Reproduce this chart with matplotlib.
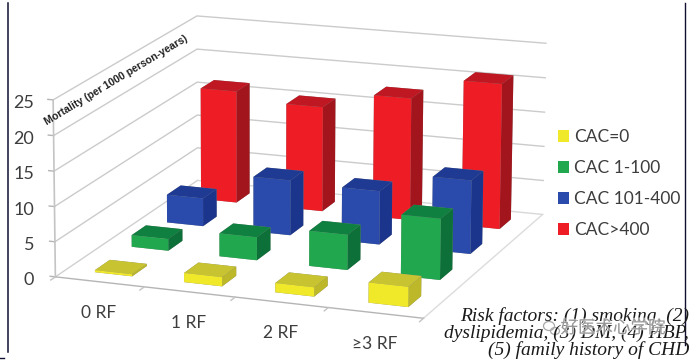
import numpy as np
import matplotlib
matplotlib.use("Agg")
import matplotlib.pyplot as plt
import matplotlib.patheffects as pe
from matplotlib.patches import Patch, Ellipse
from matplotlib.lines import Line2D
from matplotlib.transforms import IdentityTransform
from mpl_toolkits.mplot3d import Axes3D  # noqa

# ---------- data ----------
risk_groups = ["0 RF", "1 RF", "2 RF", "≥3 RF"]
series_names = ["CAC=0", "CAC 1-100", "CAC 101-400", "CAC>400"]
cac_0 = [0.3, 1.3, 1.3, 2.8]
cac_1_100 = [1.7, 3.3, 5.0, 8.6]
cac_101_400 = [4.1, 8.0, 7.7, 10.5]
cac_gt_400 = [16.6, 15.4, 17.8, 21.0]
z_ticks = [0, 5, 10, 15, 20, 25]

# ---------- styles ----------
face_front = ["#f0e92a", "#21a84f", "#2a4bab", "#ee1c25"]
face_top = ["#c8c431", "#0f8040", "#1f3a93", "#c01822"]
face_side = ["#bdb82a", "#0c7038", "#1c358c", "#a3151c"]
BAR_W, BAR_D, BAR_SHIFT = 0.42, 0.40, 0.03

W, H = 691, 360
fig = plt.figure(figsize=(W / 100, H / 100), dpi=100, facecolor="white")
ax = fig.add_axes([0, 0, 1, 1], projection="3d", computed_zorder=False)
ax.set_axis_off()
ax.patch.set_alpha(0)

# ---------- camera fitted so the box corners fall where the reference has them ----------
world = np.array([[0, 0, 0], [0, 0, 25], [4, 0, 0], [4, 4, 0], [4, 4, 25], [0, 4, 0], [0, 4, 25]], float)
screen = np.array([[56, 277], [53, 99], [423, 319], [543, 213], [546, 44], [197, 181], [197, 16]], float)
rows, rhs = [], []
for (x, y, z), (u, v) in zip(world, screen):
    rows.append([x, y, z, 1, 0, 0, 0, 0, -u * x, -u * y, -u * z]); rhs.append(u)
    rows.append([0, 0, 0, 0, x, y, z, 1, -v * x, -v * y, -v * z]); rhs.append(v)
p = np.linalg.lstsq(np.array(rows), np.array(rhs), rcond=None)[0]
M = np.array([[p[0], p[1], p[2], p[3]],
              [p[4], p[5], p[6], p[7]],
              [-0.05, 0.2, -0.01, 0.0],
              [p[8], p[9], p[10], 1.0]])
ax.get_proj = lambda: M
ax.apply_aspect = lambda position=None: None
ax.viewLim.intervalx = (0, W)
ax.viewLim.intervaly = (H, 0)


def to_px(x, y, z):
    """Box coordinates to picture pixels."""
    vec = M @ np.array([x, y, z, 1.0])
    return vec[0] / vec[3], vec[1] / vec[3]


def wire(points, color, lw=1.0):
    pts = np.array([to_px(*q) for q in points])
    fig.add_artist(Line2D(pts[:, 0] / W, 1 - pts[:, 1] / H, color=color, lw=lw, zorder=-1))


# ---------- walls ----------
GRID = "#cbcbcb"
for t in z_ticks:
    if t > 0:
        wire([(0, 0, t), (0, 4, t), (4, 4, t)], GRID)
    wire([(-0.06, 0, t), (0, 0, t)], "#b5b5b5")
wire([(0, 0, 0), (0, 0, 25)], "#c4c4c4", 1.2)
wire([(0, 0, 0), (0, 4, 0)], "#d0d0d0")
wire([(0, 4, 0), (4, 4, 0)], "#d8d8d8")
wire([(4, 0, 0), (4, 4, 0)], "#dcdcdc")
wire([(0, 0, 0), (4, 0, 0)], "#b5b5b5")
for i in range(5):
    wire([(i, 0, 0), (i, -0.12, 0)], "#c4c4c4")

# ---------- bars, back row first ----------
all_series = [cac_0, cac_1_100, cac_101_400, cac_gt_400]
for s in range(3, -1, -1):
    faces = ["#888888", face_top[s], face_front[s], "#888888", "#888888", face_side[s]]
    for i, val in enumerate(all_series[s]):
        ax.bar3d(i + 0.5 + BAR_SHIFT - BAR_W / 2, s + 0.5 - BAR_D / 2, 0, BAR_W, BAR_D, val,
                 color=faces, shade=False, linewidth=0, edgecolor="none", zorder=10 - s + i * 0.1)

# ---------- texts ----------
UI = ["Lato", "DejaVu Sans"]
INK = "#3d3d3d"
for t in z_ticks:
    _, py = to_px(0, 0, t)
    fig.text(34 / W, 1 - (py + 3) / H, str(t), family=UI, fontsize=13, color=INK, ha="right", va="center")
for i, lab in enumerate(risk_groups):
    px, py = to_px(i + 0.5, 0, 0)
    fig.text((px - 1) / W, 1 - (py + 31) / H, lab, family=UI, fontsize=12.5, color=INK, ha="center", va="center")

fig.text(116 / W, 1 - 80 / H, "Mortality (per 1000 person-years)", family="Liberation Sans", weight="bold",
         fontsize=7.6, color="#222222", rotation=31, ha="center", va="center", rotation_mode="anchor")

handles = [Patch(facecolor=c, edgecolor="none") for c in face_front]
fig.legend(handles, series_names, loc="center left", bbox_to_anchor=(558 / W, 1 - 183.5 / H), frameon=False,
           prop={"family": "Lato", "size": 12.5}, labelcolor=INK, handlelength=0.64, handleheight=0.64,
           handletextpad=0.3, labelspacing=0.86, borderpad=0, borderaxespad=0)

note = "Risk factors: (1) smoking, (2)\ndyslipidemia, (3) DM, (4) HBP,\n(5) family history of CHD"
fig.text(689 / W, 1 - 333 / H, note, family="Liberation Serif", style="italic", fontsize=14, color="#1a1a1a",
         ha="right", va="center", linespacing=0.96)
fig.text(613 / W, 1 - 328 / H, "好医术心学院", family=["Noto Sans CJK SC", "DejaVu Sans"], fontsize=12.6,
         color="#8a8a8a", ha="center", va="center", alpha=0.85,
         path_effects=[pe.withStroke(linewidth=1.2, foreground="white", alpha=0.6)])
for cx, cy, ew, eh in [(549, 326, 11, 9), (555, 331, 9, 7)]:
    fig.add_artist(Ellipse((cx, H - cy), ew, eh, transform=IdentityTransform(), fill=False,
                           edgecolor="#a8a8a8", lw=0.9))

# ---------- image border lines ----------
fig.add_artist(Line2D([7.5 / W, 7.5 / W], [1 - 352 / H, 1 - 3 / H], color="#101030", lw=1.1))
fig.add_artist(Line2D([684.5 / W, 684.5 / W], [1 - 345 / H, 1 - 3 / H], color="#101030", lw=1.0))
fig.add_artist(Line2D([0, 4 / W], [1 - 358 / H, 1 - 358 / H], color="#101030", lw=1.0))

fig.savefig("out.png", dpi=100, facecolor="white")
